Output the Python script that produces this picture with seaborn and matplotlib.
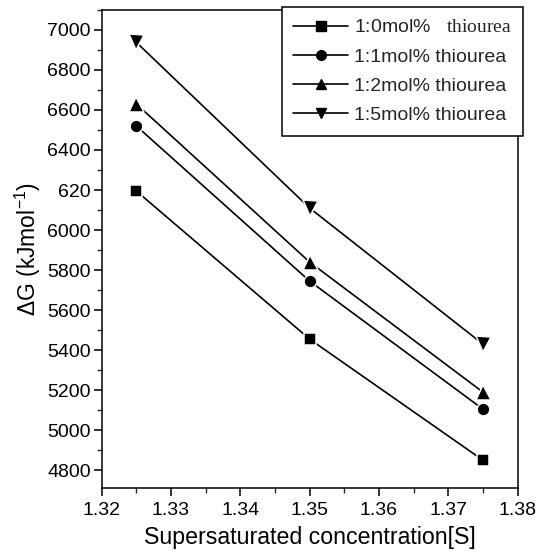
import matplotlib
matplotlib.use("Agg")
import matplotlib.pyplot as plt
import seaborn as sns
import pandas as pd
from matplotlib.lines import Line2D
from matplotlib.ticker import MultipleLocator, FixedLocator, FixedFormatter

sns.set_theme(style="ticks")
plt.rcParams['font.family'] = ['Liberation Sans', 'DejaVu Sans']
plt.rcParams['mathtext.fontset'] = 'custom'
plt.rcParams['mathtext.rm'] = 'Liberation Serif'
plt.rcParams['mathtext.sf'] = 'Liberation Sans'
plt.rcParams['mathtext.it'] = 'Liberation Sans:italic'

x_vals = [1.325, 1.35, 1.375]
series_names = ["1:0mol%", "1:1mol%", "1:2mol%", "1:5mol%"]
legend_labels = [r"1:0mol%   $\mathrm{thiourea}$", "1:1mol% thiourea", "1:2mol% thiourea", "1:5mol% thiourea"]
s0 = [6195, 5455, 4850]
s1 = [6520, 5745, 5105]
s2 = [6630, 5840, 5190]
s3 = [6938, 6110, 5430]
y_ticks = [4800, 5000, 5200, 5400, 5600, 5800, 6000, 6200, 6400, 6600, 6800, 7000]
y_tick_labels = ["4800", "5000", "5200", "5400", "5600", "5800", "6000", "620", "6400", "6600", "6800", "7000"]
x_ticks = [1.32, 1.33, 1.34, 1.35, 1.36, 1.37, 1.38]
x_tick_labels = ["1.32", "1.33", "1.34", "1.35", "1.36", "1.37", "1.38"]

rows = []
for name, vals in zip(series_names, [s0, s1, s2, s3]):
    for xv, yv in zip(x_vals, vals):
        rows.append({"S": xv, "dG": yv, "series": name})
df = pd.DataFrame(rows)

fig = plt.figure(figsize=(5.38, 5.51), dpi=100)
ax = fig.add_axes([0.189, 0.114, 0.773, 0.868])

marker_list = ["s", "o", "^", "v"]
marker_sizes = {"s": 8.6, "o": 9.2, "^": 10.8, "v": 10.8}
markers = dict(zip(series_names, marker_list))
palette = {n: "black" for n in series_names}
sns.lineplot(data=df, x="S", y="dG", hue="series", style="series", markers=markers,
             dashes=False, palette=palette, linewidth=1.2, markersize=9,
             markeredgecolor="white", markeredgewidth=1.1, ax=ax, legend=False)
for ln in ax.lines:
    m = ln.get_marker()
    if m in marker_sizes:
        ln.set_markersize(marker_sizes[m])

ax.set_xlim(1.32, 1.38)
ax.set_ylim(4710, 7100)
ax.xaxis.set_major_locator(FixedLocator(x_ticks))
ax.xaxis.set_major_formatter(FixedFormatter(x_tick_labels))
ax.xaxis.set_minor_locator(MultipleLocator(0.005))
ax.yaxis.set_major_locator(FixedLocator(y_ticks))
ax.yaxis.set_major_formatter(FixedFormatter(y_tick_labels))
ax.yaxis.set_minor_locator(MultipleLocator(100))

ax.tick_params(axis="both", which="major", direction="out", length=5.8, width=1.1,
               labelsize=14, colors="black")
ax.tick_params(axis="y", which="major", pad=2)
ax.tick_params(axis="x", which="major", pad=4.5)
ax.tick_params(axis="both", which="minor", direction="out", length=3.6, width=1.0)
ax.tick_params(top=False, right=False)
for sp in ax.spines.values():
    sp.set_visible(True)
    sp.set_color("black")
    sp.set_linewidth(1.1)

ax.set_xlabel("Supersaturated concentration[S]", fontsize=16.7, labelpad=5, color="black")
ax.set_ylabel(r"ΔG (kJmol$^{\mathsf{-1}}$)", fontsize=16.5, labelpad=3, color="black")

handles = [Line2D([], [], color="black", linewidth=1.2, marker=m, markersize=7,
                  markeredgecolor="black") for m in marker_list]
leg = ax.legend(handles, legend_labels,
                loc="upper left", bbox_to_anchor=(0.433, 1.006), fontsize=14,
                frameon=True, fancybox=False, edgecolor="black", framealpha=1,
                handlelength=2.8, handletextpad=0.3, labelspacing=0.6,
                borderpad=0.6, borderaxespad=0)
leg.get_frame().set_linewidth(1.1)
leg.set_zorder(5)

fig.savefig("out.png", dpi=100)
